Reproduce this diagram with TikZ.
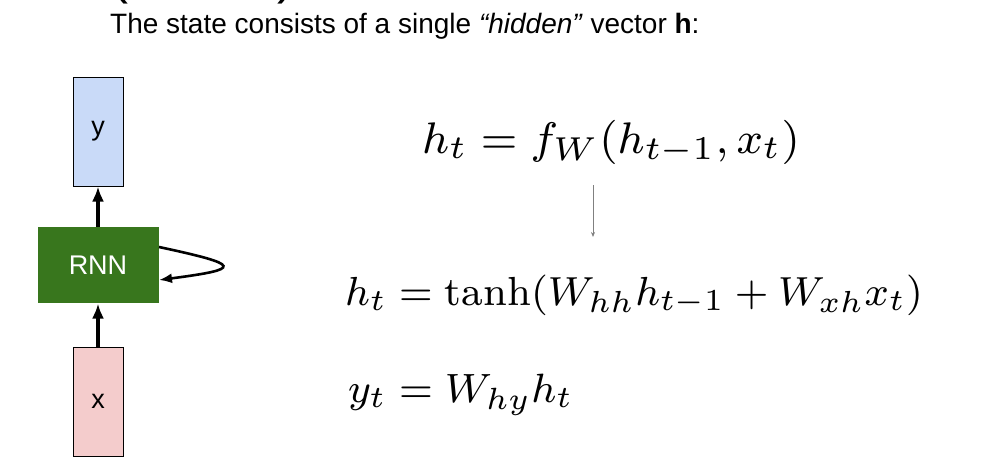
\documentclass[tikz,border=0pt]{standalone}
\usepackage{graphicx}
\usepackage{fontspec}
\newfontfamily\arial{Liberation Sans}
\usetikzlibrary{arrows.meta}
\definecolor{ylblue}{HTML}{C9DAF8}
\definecolor{xlred}{HTML}{F4CCCC}
\definecolor{rnngreen}{HTML}{38761D}
\begin{document}
\begin{tikzpicture}[x=1pt, y=-1pt,
	vecbox/.style={draw=black, line width=1pt, minimum width=50pt, minimum height=109pt, inner sep=0pt, font=\arial\fontsize{27}{30}\selectfont},
	flow/.style={line width=3.4pt, -{Latex[length=15pt,width=12pt]}},
	eqn/.style={anchor=base west, inner sep=0pt, font=\fontsize{8}{10}\selectfont}]
	\useasboundingbox (0,0) rectangle (994,474);
	
	% Titel
	\node[anchor=base west, inner sep=0pt, font=\arial\fontsize{51}{60}\selectfont] (head) at (111,-7) {(Vanilla) Recurrent Neural Network};
	\node[anchor=base west, inner sep=0pt, font=\arial\fontsize{28}{32}\selectfont] (state) at (110,33) {The state consists of a single \textit{“hidden”} vector \textbf{h}:};
	
	% Netz
	\node[vecbox, fill=ylblue] (y) at (98,131.5) {y};
	\node[vecbox, fill=rnngreen, draw=none, minimum width=121pt, minimum height=76pt, text=white] (rnn) at (98,265) {RNN};
	\node[vecbox, fill=xlred] (x) at (98,401.5) {x};
	\draw[flow] (x) -- (rnn);
	\draw[flow] (rnn) -- (y);
	%Rueckkopplung
	\draw[line width=2.6pt, -{Latex[length=13pt,width=10pt]}] ([yshift=18pt]rnn.east) .. controls (243,265) and (243,269) .. ([yshift=-15pt]rnn.east);
	
	% Gleichungen
	\node[eqn] (update) at (422,153) {\scalebox{5.53}{$h_t = f_W(h_{t-1}, x_t)$}};
	\node[eqn] (tanh) at (345,305) {\scalebox{5.08}{$h_t = \tanh(W_{hh}h_{t-1} + W_{xh}x_t)$}};
	\node[eqn] (out) at (348,402) {\scalebox{5.12}{$y_t = W_{hy}h_t$}};
	\coordinate (a1) at (593,185);
	\coordinate (a2) at (593,237);
	\draw[gray, line width=0.8pt, -{Stealth[length=5pt,width=4pt]}] (a1) -- (a2);
	
\end{tikzpicture}
\end{document}
